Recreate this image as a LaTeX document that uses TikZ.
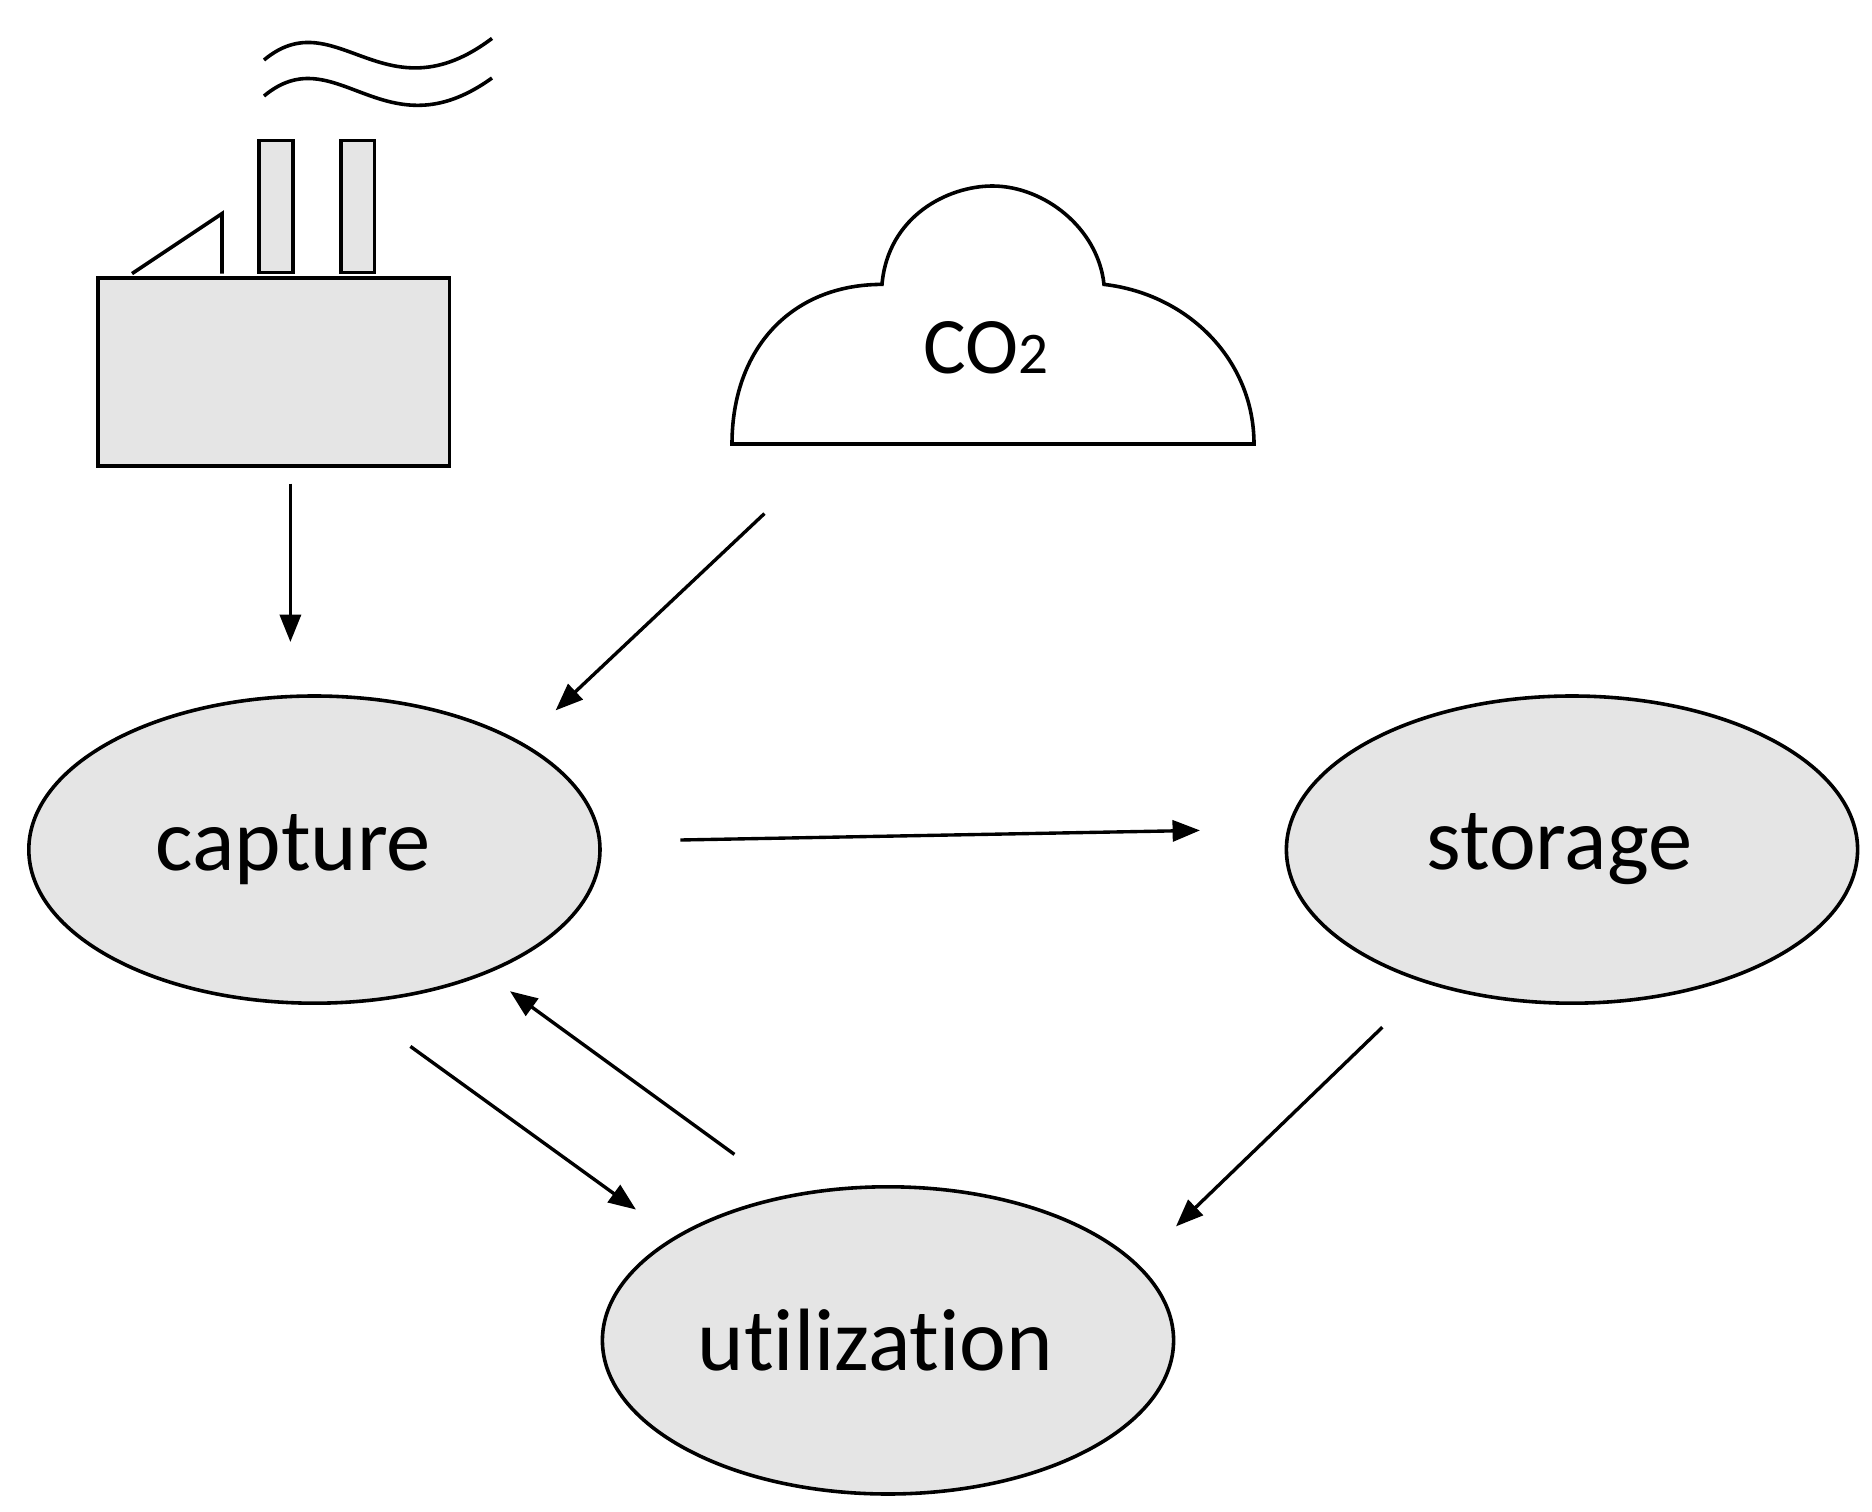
\documentclass[tikz,border=0pt]{standalone}
\usepackage{fontspec}
\setmainfont{Carlito}[Ligatures=NoCommon]
\usetikzlibrary{shapes.geometric,arrows.meta}
\begin{document}
\begin{tikzpicture}[x=0.02cm,y=-0.02cm,
  gr/.style={fill=black!10,draw=black,line width=1.7pt},
  ell/.style={ellipse,gr,minimum width=476*0.02cm,minimum height=256*0.02cm,font=\fontsize{42}{48}\selectfont},
  arr/.style={-{Triangle[length=13pt,width=10pt]},line width=1.6pt}]
\useasboundingbox (0,0) rectangle (1560,1260);
% factory
\node[gr,rectangle,minimum width=293*0.02cm,minimum height=157*0.02cm,anchor=north west] (fac) at (80,230) {};
\draw[gr] (216,117) rectangle (244,227);
\draw[gr] (284,117) rectangle (312,227);
\draw[line width=1.7pt] (110,228) -- (185,178) -- (185,228);
\draw[line width=1.7pt] (220,50) .. controls (280,0) and (320,100) .. (410,32);
\draw[line width=1.7pt] (220,80) .. controls (280,30) and (320,130) .. (410,65);
% cloud
\draw[line width=1.7pt,fill=white] (610,370) .. controls (610,290) and (660,237) .. (735,237)
  .. controls (740,180) and (790,155) .. (827,155) .. controls (870,155) and (915,190) .. (920,237)
  .. controls (990,245) and (1045,300) .. (1045,370) -- cycle;
\node[font=\fontsize{38}{44}\selectfont] (co2) at (822,290) {CO\fontsize{28}{32}\selectfont 2};
\coordinate (cb) at (637,428);
\coordinate (fb) at (242,403);
% ellipses
\node[ell] (cap) at (262,708) {capture\hspace*{20pt}};
\node[ell] (sto) at (1310,708) {storage\hspace*{12pt}};
\node[ell] (uti) at (740,1117) {utilization\hspace*{12pt}};
\coordinate (a1) at (242,535);
\coordinate (a2) at (463,592);
\coordinate (h1) at (567,700); \coordinate (h2) at (1000,692);
\coordinate (d1) at (342,872); \coordinate (d2) at (530,1008);
\coordinate (u1) at (612,962); \coordinate (u2) at (425,826);
\coordinate (s1) at (1152,856); \coordinate (s2) at (980,1022);
\draw[arr] (fb) -- (a1);
\draw[arr] (cb) -- (a2);
\draw[arr] (h1) -- (h2);
\draw[arr] (d1) -- (d2);
\draw[arr] (u1) -- (u2);
\draw[arr] (s1) -- (s2);
\end{tikzpicture}
\end{document}
